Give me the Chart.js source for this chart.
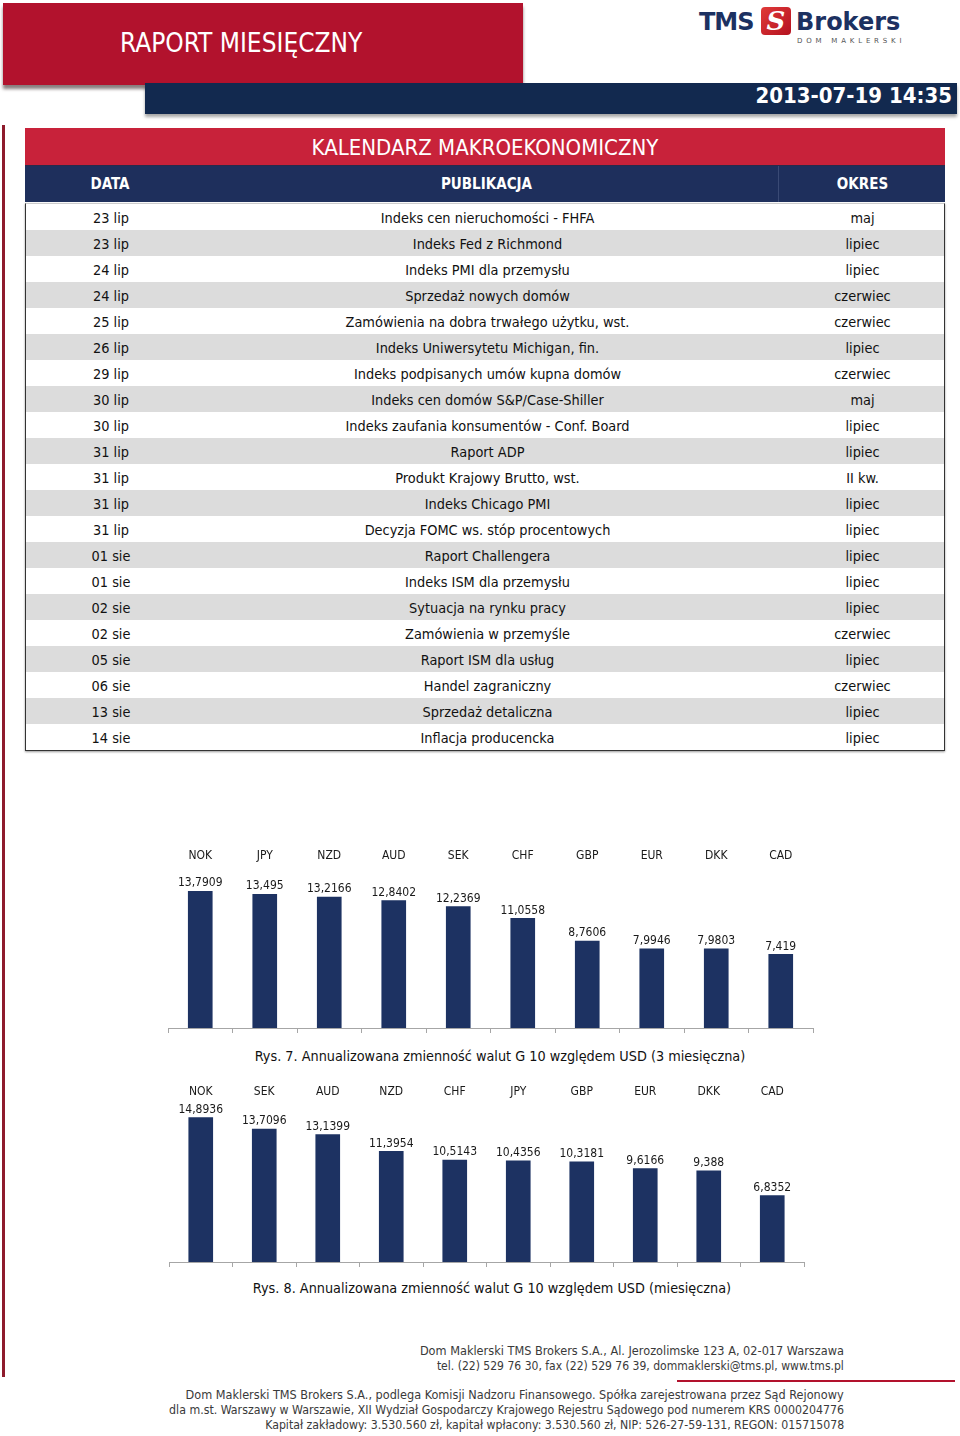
<!DOCTYPE html>
<html lang="pl">
<head>
<meta charset="utf-8">
<script src="https://cdn.jsdelivr.net/npm/chart.js@4.4.1/dist/chart.umd.min.js"></script>
<style>
  html, body { margin:0; padding:0; }
  body { width:960px; height:1436px; position:relative; background:#fff; overflow:hidden;
         font-family:"DejaVu Sans Condensed","Liberation Sans Narrow","DejaVu Sans",sans-serif; color:#111; }
  .abs { position:absolute; }
  #redbox { left:3px; top:3px; width:520px; height:82px; background:#b2122d; box-shadow:0 4px 3px rgba(40,20,20,0.55); }
  #redbox span { position:absolute; left:117px; top:25px; color:#fff; font-size:26px; }
  #navy { left:145px; top:83px; width:812px; height:31px; background:#12294f; box-shadow:0 3px 3px rgba(0,0,0,0.35); }
  #navy span { position:absolute; right:5px; top:0px; color:#fff; font-weight:bold; font-size:22px; }
  #logo { left:0; top:0; width:960px; height:50px; }
  #logo .t { position:absolute; top:10px; line-height:24px; font-weight:bold; font-size:24px; color:#1c3161; font-family:"DejaVu Sans",sans-serif; white-space:nowrap; }
  #logo .sq { position:absolute; left:761px; top:7px; width:30px; height:28px; background:linear-gradient(135deg,#e03a3a,#b5121f); border-radius:4px; color:#fff;
              font:bold italic 26px "DejaVu Serif",serif; text-align:center; line-height:28px; }
  #logo .dm { position:absolute; left:797px; top:37px; line-height:8px; font-size:7px; letter-spacing:3.8px; color:#555; font-family:"DejaVu Sans",sans-serif; white-space:nowrap; }
  #leftline { left:2px; top:125px; width:3px; height:1252px; background:#8e1b2c; }
  #tbl { left:25px; top:128px; width:920px; }
  #tbl .title { height:37px; background:#c8223a; color:#fff; font-size:22px; text-align:center; line-height:40px; }
  #tbl .head { height:37px; background:#1e2f5c; color:#fff; font-weight:bold; font-size:15px; position:relative; border-top:1px solid #2a2a4a; box-sizing:border-box; }
  #tbl .head div { position:absolute; top:0; line-height:37px; text-align:center; }
  #rows { position:absolute; left:25px; top:203px; width:918px; border:1px solid #333; border-top:1px solid #ccc; box-shadow:0 1px 2px rgba(0,0,0,0.4); }
  .row { height:26px; position:relative; font-size:14.4px; }
  .row:nth-child(even) { background:#dcdcdc; }
  .row div { position:absolute; top:1px; line-height:27px; text-align:center; white-space:nowrap; }
  .c1 { left:0; width:170px; }
  .c2 { left:170px; width:583px; }
  .c3 { left:753px; width:167px; }
  .cap { font-size:14.3px; color:#111; white-space:nowrap; }
  .foot { right:116px; font-size:12.6px; color:#3a3a3a; white-space:nowrap; text-align:right; transform-origin:right center;
          font-family:"Liberation Sans Narrow","DejaVu Sans Condensed",sans-serif; }
  #redline { left:677px; top:1380px; width:278px; height:2px; background:#b2122d; }
</style>
</head>
<body>
<div id="redbox" class="abs"><span>RAPORT MIESIĘCZNY</span></div>
<div id="navy" class="abs"><span>2013-07-19 14:35</span></div>
<div id="logo" class="abs">
  <span class="t" style="left:699px; letter-spacing:-1px;">TMS</span>
  <div class="sq">S</div>
  <span class="t" style="left:796px">Brokers</span>
  <span class="dm">DOM MAKLERSKI</span>
</div>
<div id="leftline" class="abs"></div>

<div id="tbl" class="abs">
  <div class="title">KALENDARZ MAKROEKONOMICZNY</div>
  <div class="head">
    <div class="c1">DATA</div>
    <div class="c2">PUBLIKACJA</div>
    <div class="c3" style="border-left:1px solid #3a4a75; height:36px;">OKRES</div>
  </div>
</div>
<div id="rows" class="abs"></div>

<div class="abs" style="left:150px; top:833px; width:680px; height:200px;"><canvas id="ch1"></canvas></div>
<div class="abs cap" style="left:0; width:1000px; top:1048px; text-align:center;">Rys. 7. Annualizowana zmienność walut G 10 względem USD (3 miesięczna)</div>

<div class="abs" style="left:150px; top:1067px; width:680px; height:200px;"><canvas id="ch2"></canvas></div>
<div class="abs cap" style="left:0; width:984px; top:1280px; text-align:center;">Rys. 8. Annualizowana zmienność walut G 10 względem USD (miesięczna)</div>

<div class="abs foot" data-w="424" style="top:1343px;">Dom Maklerski TMS Brokers S.A., Al. Jerozolimske 123 A, 02-017 Warszawa</div>
<div class="abs foot" data-w="407" style="top:1358px;">tel. (22) 529 76 30, fax (22) 529 76 39, dommaklerski@tms.pl, www.tms.pl</div>
<div id="redline" class="abs"></div>
<div class="abs foot" data-w="658" style="top:1387px;">Dom Maklerski TMS Brokers S.A., podlega Komisji Nadzoru Finansowego. Spółka zarejestrowana przez Sąd Rejonowy</div>
<div class="abs foot" data-w="675" style="top:1402px;">dla m.st. Warszawy w Warszawie, XII Wydział Gospodarczy Krajowego Rejestru Sądowego pod numerem KRS 0000204776</div>
<div class="abs foot" data-w="579" style="top:1417px;">Kapitał zakładowy: 3.530.560 zł, kapitał wpłacony: 3.530.560 zł, NIP: 526-27-59-131, REGON: 015715078</div>

<script>
// ---- Table data ----
const calDates = ["23 lip","23 lip","24 lip","24 lip","25 lip","26 lip","29 lip","30 lip","30 lip","31 lip","31 lip","31 lip","31 lip","01 sie","01 sie","02 sie","02 sie","05 sie","06 sie","13 sie","14 sie"];
const calPublications = ["Indeks cen nieruchomości - FHFA","Indeks Fed z Richmond","Indeks PMI dla przemysłu","Sprzedaż nowych domów","Zamówienia na dobra trwałego użytku, wst.","Indeks Uniwersytetu Michigan, fin.","Indeks podpisanych umów kupna domów","Indeks cen domów S&P/Case-Shiller","Indeks zaufania konsumentów - Conf. Board","Raport ADP","Produkt Krajowy Brutto, wst.","Indeks Chicago PMI","Decyzja FOMC ws. stóp procentowych","Raport Challengera","Indeks ISM dla przemysłu","Sytuacja na rynku pracy","Zamówienia w przemyśle","Raport ISM dla usług","Handel zagraniczny","Sprzedaż detaliczna","Inflacja producencka"];
const calPeriods = ["maj","lipiec","lipiec","czerwiec","czerwiec","lipiec","czerwiec","maj","lipiec","lipiec","II kw.","lipiec","lipiec","lipiec","lipiec","lipiec","czerwiec","lipiec","czerwiec","lipiec","lipiec"];

// ---- Chart data ----
const currencies3m = ["NOK","JPY","NZD","AUD","SEK","CHF","GBP","EUR","DKK","CAD"];
const vol3m = [13.7909, 13.495, 13.2166, 12.8402, 12.2369, 11.0558, 8.7606, 7.9946, 7.9803, 7.419];
const currencies1m = ["NOK","SEK","AUD","NZD","CHF","JPY","GBP","EUR","DKK","CAD"];
const vol1m = [14.8936, 13.7096, 13.1399, 11.3954, 10.5143, 10.4356, 10.3181, 9.6166, 9.388, 6.8352];

const esc = s => s.replace(/&/g,"&amp;");
document.getElementById("rows").innerHTML = calDates.map((d,i) =>
  `<div class="row"><div class="c1">${d}</div><div class="c2">${esc(calPublications[i])}</div><div class="c3">${calPeriods[i]}</div></div>`
).join("");

// fit footer lines to the reference widths
document.querySelectorAll(".foot").forEach(el => {
  const target = parseFloat(el.dataset.w);
  const w = el.getBoundingClientRect().width;
  if (w > 0) el.style.transform = `scaleX(${target / w})`;
});

const FONT = '"DejaVu Sans Condensed","Liberation Sans Narrow","DejaVu Sans",sans-serif';
Chart.defaults.font.family = FONT;
Chart.defaults.color = "#1a1a1a";

const valueLabels = {
  id: "valueLabels",
  afterDatasetsDraw(chart) {
    const ctx = chart.ctx;
    const meta = chart.getDatasetMeta(0);
    const data = chart.data.datasets[0].data;
    ctx.save();
    ctx.font = "12px " + FONT;
    ctx.fillStyle = "#1a1a1a";
    ctx.textAlign = "center";
    ctx.textBaseline = "bottom";
    meta.data.forEach((bar, i) => {
      ctx.fillText(String(data[i]).replace(".", ","), bar.x, bar.y - 2);
    });
    ctx.restore();
  }
};

function makeChart(id, labels, values, yMax, pad) {
  new Chart(document.getElementById(id), {
    type: "bar",
    data: { labels: labels, datasets: [{ data: values, backgroundColor: "#1d3262", barThickness: 24, xAxisID: "x" }] },
    options: {
      responsive: true, maintainAspectRatio: false, animation: false,
      layout: { padding: pad },
      plugins: { legend: { display: false }, tooltip: { enabled: false } },
      scales: {
        x: {
          position: "bottom",
          offset: true,
          border: { display: true, color: "#a6a6a6", width: 1 },
          grid: { display: true, drawOnChartArea: false, drawTicks: true, tickLength: 5, color: "#a6a6a6", offset: true },
          ticks: { display: false }
        },
        xTop: {
          type: "category",
          labels: labels,
          position: "top",
          offset: true,
          border: { display: false },
          grid: { display: false, drawTicks: false },
          ticks: { font: { size: 12 }, color: "#1a1a1a", padding: 3, maxRotation: 0, autoSkip: false }
        },
        y: { display: false, min: 0, max: yMax }
      }
    },
    plugins: [valueLabels]
  });
}

makeChart("ch1", currencies3m, vol3m, 16.3, { left: 18, right: 17, top: 13, bottom: 0 });
makeChart("ch2", currencies1m, vol1m, 16.45, { left: 19, right: 26, top: 15, bottom: 0 });
</script>
</body>
</html>
